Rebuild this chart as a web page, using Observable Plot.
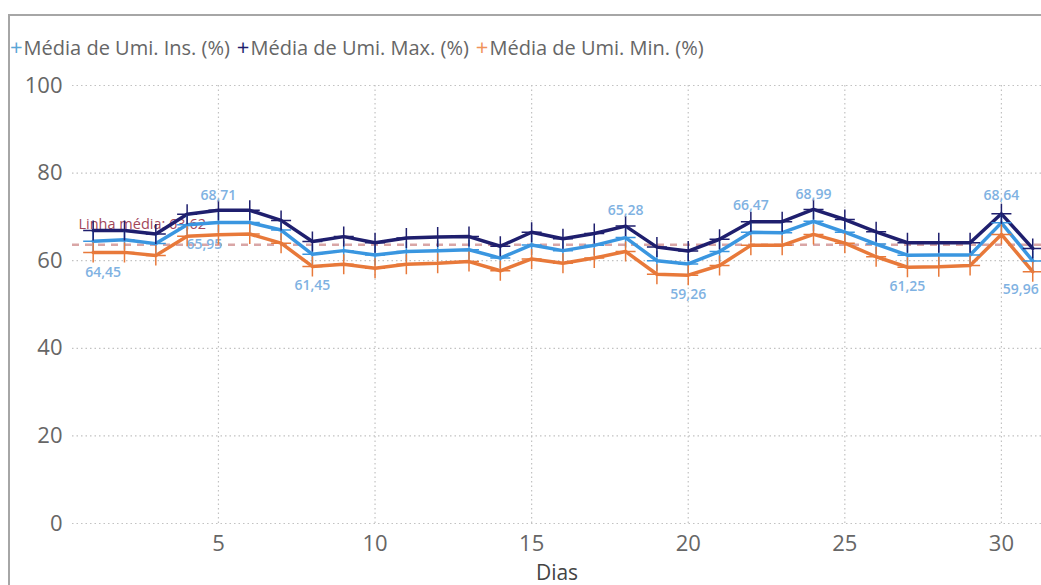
<!DOCTYPE html>
<html>
<head>
<meta charset="utf-8">
<script src="https://cdn.jsdelivr.net/npm/d3@7"></script>
<script src="https://cdn.jsdelivr.net/npm/@observablehq/plot@0.6"></script>
<style>
  html, body { margin: 0; padding: 0; background: #fff; }
  #wrap { position: relative; width: 1041px; height: 585px; overflow: hidden; font-family: "Open Sans", sans-serif; }
  #frame { position: absolute; left: 8px; top: 14px; width: 1100px; height: 700px; border-left: 2px solid #a6a6a6; border-top: 2px solid #a6a6a6; }
  #legend { position: absolute; left: 10px; top: 31px; font-size: 20px; color: #666; white-space: nowrap; }
  #legend span.m { font-size: 22px; margin-right: 1px; }
  #legend span.item { margin-right: 7px; }
  #chart { position: absolute; left: 0; top: 0; }
</style>
</head>
<body>
<div id="wrap">
  <div id="frame"></div>
  <div id="chart"></div>
  <div id="legend"></div>
</div>
<script>
const days = [1,2,3,4,5,6,7,8,9,10,11,12,13,14,15,16,17,18,19,20,21,22,23,24,25,26,27,28,29,30,31];
const umiIns = [64.45,64.8,63.9,68.2,68.71,68.7,67.0,61.45,62.3,61.3,62.1,62.3,62.5,60.6,63.6,62.3,63.5,65.28,60.0,59.26,62.1,66.47,66.4,68.99,66.5,63.8,61.25,61.3,61.3,68.64,59.96];
const umiMax = [66.9,66.9,66.1,70.6,71.5,71.5,69.2,64.4,65.5,64.1,65.2,65.4,65.5,63.3,66.5,65.0,66.2,67.9,63.1,62.2,64.9,68.9,68.9,71.7,69.4,66.6,64.1,64.1,64.1,70.7,62.8];
const umiMin = [61.9,61.9,61.2,65.6,65.95,66.1,64.0,58.7,59.2,58.3,59.2,59.4,59.8,57.7,60.4,59.4,60.6,62.1,56.9,56.7,58.9,63.5,63.5,66.0,64.0,60.9,58.5,58.6,58.9,66.0,57.5];
const seriesNames = ["Média de Umi. Ins. (%)", "Média de Umi. Max. (%)", "Média de Umi. Min. (%)"];
const seriesColors = ["#3a96e0", "#1f1f6e", "#e8793a"];
const legendMarkColors = ["#5aa6d6", "#1f1f6e", "#f0935a"];
const labelDays = [1,5,8,18,20,22,24,27,30,31];
const labelPos = ["below","above","below","above","below","above","above","below","above","below"];
const extraLabelDay = 5; // Min label partly hidden
const avgValue = 63.62;
const avgLabel = "Linha média: 63,62";
const yTicks = [0,20,40,60,80,100];
const xTicks = [5,10,15,20,25,30];
const xTitle = "Dias";

const fmt = v => v.toFixed(2).replace(".", ",");

const rows = [];
[umiIns, umiMax, umiMin].forEach((arr, si) => {
  arr.forEach((v, i) => rows.push({day: days[i], value: v, series: seriesNames[si], si}));
});
const labels = labelDays.map((d, k) => ({day: d, value: umiIns[days.indexOf(d)], pos: labelPos[k]}));
const extra = [{day: extraLabelDay, value: umiMin[days.indexOf(extraLabelDay)]}];

const thinPlus = {
  draw(ctx, size) {
    const r = Math.sqrt(size / Math.PI);
    ctx.moveTo(-r, 0); ctx.lineTo(r, 0);
    ctx.moveTo(0, -r); ctx.lineTo(0, r);
  }
};

const labelStyle = {fill: "#7fb2e2", fontSize: 14, fontWeight: 600};

const chart = Plot.plot({
  width: 1041,
  height: 585,
  marginTop: 85,
  marginBottom: 62,
  marginLeft: 72,
  marginRight: 0,
  style: {fontFamily: "Open Sans, sans-serif", background: "transparent", overflow: "visible"},
  x: {domain: [0.34, 31.28], ticks: xTicks, tickSize: 0, tickPadding: 12, label: xTitle, labelAnchor: "center", labelArrow: "none", labelOffset: 56},
  y: {domain: [0, 100], ticks: yTicks, tickSize: 0, tickPadding: 10, label: null},
  color: {domain: seriesNames, range: seriesColors},
  marks: [
    Plot.ruleY(yTicks, {stroke: "#c2c2c2", strokeDasharray: "1.5,3", strokeWidth: 1.2}),
    Plot.ruleX(xTicks, {stroke: "#c2c2c2", strokeDasharray: "1.5,3", strokeWidth: 1.2}),
    Plot.ruleY([avgValue], {stroke: "#d9a6a6", strokeDasharray: "7,6", strokeWidth: 2.5}),
    Plot.text([avgLabel], {frameAnchor: "left", y: () => avgValue, text: d => d, dx: 6, dy: -20, textAnchor: "start", fill: "#a2475a", fontSize: 14.5}),
    Plot.text(extra, {x: "day", y: "value", text: d => fmt(d.value), dx: -14, dy: 10, ...labelStyle}),
    Plot.line(rows, {x: "day", y: "value", z: "series", stroke: "series", strokeWidth: 3.5, strokeLinejoin: "round"}),
    Plot.dot(rows, {x: "day", y: "value", stroke: "series", symbol: thinPlus, r: 10, strokeWidth: 1.5, fill: "none"}),
    Plot.text(labels, {x: "day", y: "value", text: d => fmt(d.value), ...labelStyle,
      filter: d => d.pos === "above", dy: -27}),
    Plot.text(labels, {x: "day", y: "value", text: d => fmt(d.value), ...labelStyle,
      filter: d => d.pos === "below" && d.day !== 1 && d.day !== 31, dy: 31}),
    Plot.text(labels, {x: "day", y: "value", text: d => fmt(d.value), ...labelStyle,
      filter: d => d.day === 1, dy: 31, dx: 10}),
    Plot.text(labels, {x: "day", y: "value", text: d => fmt(d.value), ...labelStyle,
      filter: d => d.day === 31, dy: 29, dx: -12})
  ]
});

d3.select(chart).selectAll("g[aria-label='y-axis tick label'], g[aria-label='x-axis tick label']")
  .attr("fill", "#666").attr("font-size", 22);
d3.select(chart).selectAll("g[aria-label='x-axis label']")
  .attr("fill", "#444").attr("font-size", 21);

document.getElementById("chart").appendChild(chart);

const legend = document.getElementById("legend");
seriesNames.forEach((n, i) => {
  const item = document.createElement("span");
  item.className = "item";
  const m = document.createElement("span");
  m.className = "m";
  m.style.color = legendMarkColors[i];
  m.textContent = "+";
  item.appendChild(m);
  item.appendChild(document.createTextNode(n));
  legend.appendChild(item);
});
</script>
</body>
</html>
